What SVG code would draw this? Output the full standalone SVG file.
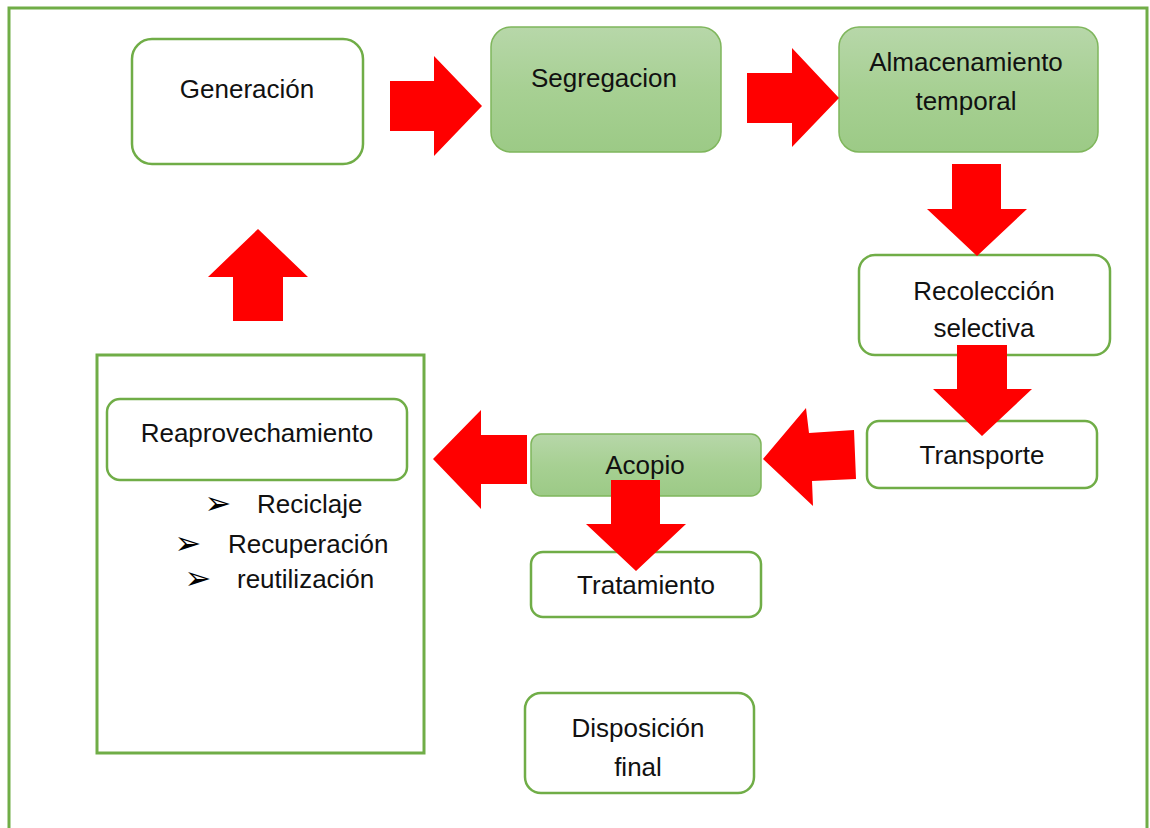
<svg xmlns="http://www.w3.org/2000/svg" width="1150" height="828" viewBox="0 0 1150 828">
<defs>
<linearGradient id="gf" x1="0" y1="0" x2="0" y2="1">
<stop offset="0" stop-color="#b7d7a9"/>
<stop offset="0.5" stop-color="#a7d093"/>
<stop offset="1" stop-color="#9cca86"/>
</linearGradient>
<style>
.box{fill:#ffffff;stroke:#70ad47;stroke-width:2.5}
.gbox{fill:url(#gf);stroke:#7fb65c;stroke-width:1.5}
.frame{fill:none;stroke:#70ad47;stroke-width:3}
.arr{fill:#ff0000;stroke:none}
text{font-family:"Liberation Sans",Arial,sans-serif;font-size:26px;fill:#111111;text-anchor:middle}
.li{text-anchor:start}
.bul{font-family:"DejaVu Sans",sans-serif;font-size:32px;fill:#000000}
</style>
</defs>
<rect width="1150" height="828" fill="#ffffff"/>
<path class="frame" d="M9,830 V8 H1147 V830"/>
<g id="reaprovechamiento-panel">
<rect x="97" y="355" width="327" height="398" fill="#ffffff" stroke="#70ad47" stroke-width="3"/>
</g>
<g id="generacion">
<rect class="box" x="132" y="39" width="231" height="125" rx="20"/>
<text x="247" y="98">Generación</text>
</g>
<g id="segregacion">
<rect class="gbox" x="491" y="27" width="230" height="125" rx="20"/>
<text x="604" y="87">Segregacion</text>
</g>
<g id="almacenamiento">
<rect class="gbox" x="839" y="27" width="259" height="125" rx="20"/>
<text x="966" y="71">Almacenamiento</text>
<text x="966" y="110">temporal</text>
</g>
<g id="recoleccion">
<rect class="box" x="859" y="255" width="251" height="100" rx="16"/>
<text x="984" y="300">Recolección</text>
<text x="984" y="337">selectiva</text>
</g>
<g id="transporte">
<rect class="box" x="867" y="421" width="230" height="67" rx="12"/>
<text x="982" y="464">Transporte</text>
</g>
<g id="acopio">
<rect class="gbox" x="531" y="434" width="230" height="62" rx="10"/>
</g>
<g id="tratamiento">
<rect class="box" x="531" y="552" width="230" height="65" rx="12"/>
<text x="646" y="594">Tratamiento</text>
</g>
<g id="disposicion">
<rect class="box" x="525" y="693" width="229" height="100" rx="16"/>
<text x="638" y="737">Disposición</text>
<text x="638" y="776">final</text>
</g>
<g id="reaprovechamiento">
<rect class="box" x="107" y="399" width="300" height="81" rx="13"/>
<text x="257" y="442">Reaprovechamiento</text>
<text class="bul" x="218" y="514">➢</text>
<text class="li" x="257" y="513">Reciclaje</text>
<text class="bul" x="188" y="554">➢</text>
<text class="li" x="228" y="553">Recuperación</text>
<text class="bul" x="198" y="589">➢</text>
<text class="li" x="237" y="588">reutilización</text>
</g>
<g id="connectors">
<path class="arr" d="M390,81 H434 V56 L482,106 L434,156 V131 H390 Z"/>
<path class="arr" d="M747,73 H792 V48 L839,98 L792,147 V123 H747 Z"/>
<path class="arr" d="M952,164 H1001 V209 H1027 L977,256 L927,209 H952 Z"/>
<path class="arr" d="M957,345 H1007 V389 H1032 L982,436 L933,389 H957 Z"/>
<polygon class="arr" points="854,430 856,479 812,481 813,506 763,459 806,408 809,433"/>
<path class="arr" d="M527,435 V484 H481 V509 L433,459 L481,410 V435 Z"/>
<path class="arr" d="M611,480 H660 V524 H686 L636,571 L586,524 H611 Z"/>
<path class="arr" d="M233,321 V277 H208 L258,229 L308,277 H283 V321 Z"/>
</g>
<g id="acopio-label">
<text x="645" y="474">Acopio</text>
</g>
</svg>
